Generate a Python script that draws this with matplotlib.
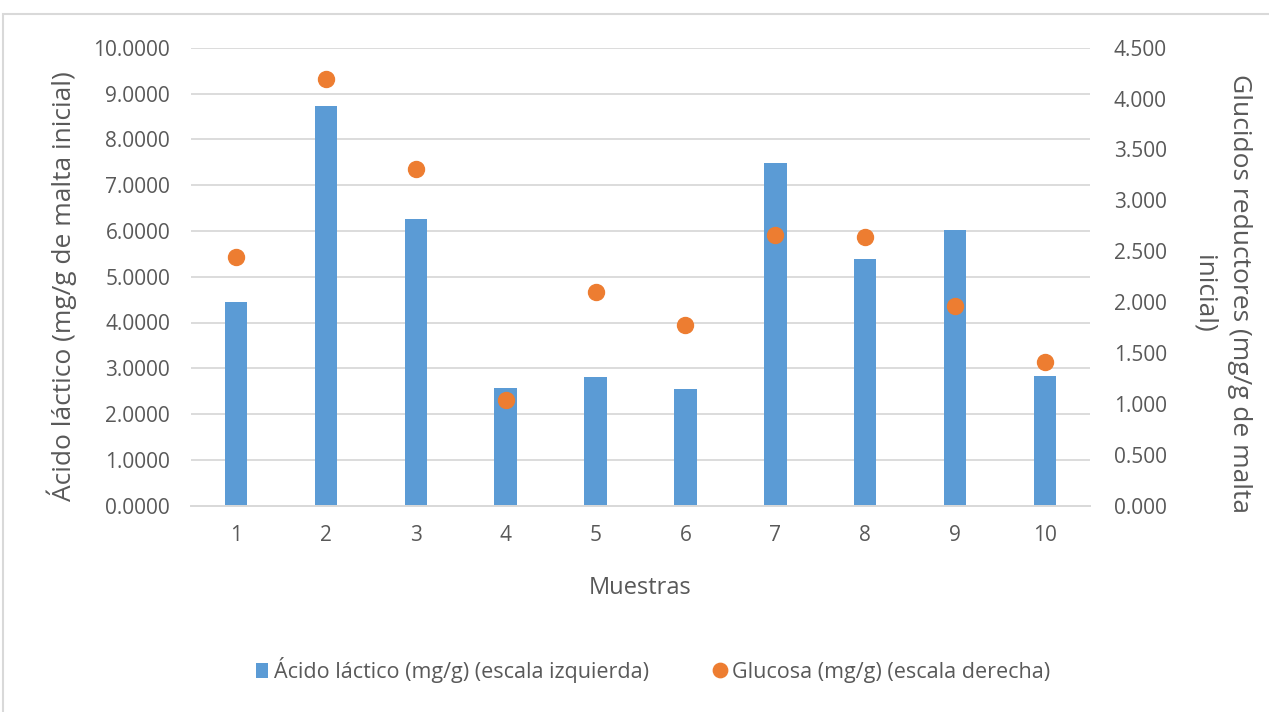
import matplotlib.pyplot as plt
from matplotlib.patches import Rectangle
import numpy as np

plt.rcParams['font.family'] = ['Open Sans', 'DejaVu Sans']

muestras = ['1', '2', '3', '4', '5', '6', '7', '8', '9', '10']
acido_lactico = [4.44, 8.73, 6.27, 2.58, 2.80, 2.54, 7.48, 5.39, 6.01, 2.83]
glucosa = [2.44, 4.19, 3.31, 1.04, 2.10, 1.775, 2.66, 2.64, 1.965, 1.41]

gris = '#595959'
rejilla = '#d9d9d9'
azul = '#5b9bd5'
naranja = '#ed7d31'

fig = plt.figure(figsize=(12.69, 7.12), dpi=100)

# marco del grafico
fig.patches.append(Rectangle((3 / 1269, -0.05), 1.2, 1 - 14 / 712 + 0.05,
                             transform=fig.transFigure, fill=False,
                             edgecolor=rejilla, linewidth=1.5))

ax = fig.add_axes([191 / 1269, 1 - 505.7 / 712, (1090 - 191) / 1269, (505.7 - 47.7) / 712])
ax2 = ax.twinx()

x = np.arange(1, len(muestras) + 1)
ax.bar(x, acido_lactico, width=0.25, color=azul, zorder=2,
       label='Ácido láctico (mg/g) (escala izquierda)')
ax2.plot(x, glucosa, 'o', color=naranja, markersize=11.5, linestyle='none',
         label='Glucosa (mg/g) (escala derecha)')

ax.set_xlim(0.5, 10.5)
ax.set_ylim(0, 10)
ax.set_yticks(np.arange(0, 10.01, 1))
ax.set_yticklabels([f'{v:.4f}' for v in np.arange(0, 10.01, 1)])
ax2.set_ylim(0, 4.5)
ax2.set_yticks(np.arange(0, 4.51, 0.5))
ax2.set_yticklabels([f'{v:.3f}' for v in np.arange(0, 4.51, 0.5)])
ax.set_xticks(x)
ax.set_xticklabels(muestras)

ax.grid(axis='y', color=rejilla, linewidth=1.3, zorder=0)
ax.set_axisbelow(True)
for a in (ax, ax2):
    for s in ('top', 'left', 'right'):
        a.spines[s].set_visible(False)
    a.spines['bottom'].set_color(rejilla)
    a.spines['bottom'].set_linewidth(1.3)

ax.tick_params(axis='y', length=0, pad=15, labelsize=15, labelcolor=gris)
ax.tick_params(axis='x', length=0, pad=14, labelsize=15, labelcolor=gris)
ax2.tick_params(axis='y', length=0, pad=17, labelsize=15, labelcolor=gris)

# titulos de ejes
fig.text(640 / 1269, 1 - 588 / 712, 'Muestras', fontsize=17, color=gris,
         ha='center', va='center')
fig.text(62 / 1269, 1 - 286 / 712, 'Ácido láctico (mg/g de malta inicial)', fontsize=19,
         color=gris, ha='center', va='center', rotation=90)
fig.text(1222 / 1269, 1 - 294 / 712, 'Glucidos reductores (mg/g de malta\ninicial)',
         fontsize=19, color=gris, ha='center', va='center', rotation=270,
         linespacing=1.55, multialignment='center')

h1, l1 = ax.get_legend_handles_labels()
h2, l2 = ax2.get_legend_handles_labels()
fig.legend(h1 + h2, l1 + l2, loc='center', bbox_to_anchor=(653 / 1269, 1 - 670 / 712),
           ncol=2, frameon=False, fontsize=15.5, labelcolor=gris, handlelength=0.55,
           handletextpad=0.3, columnspacing=3.0, markerscale=0.9)

fig.savefig('out.png', dpi=100)
